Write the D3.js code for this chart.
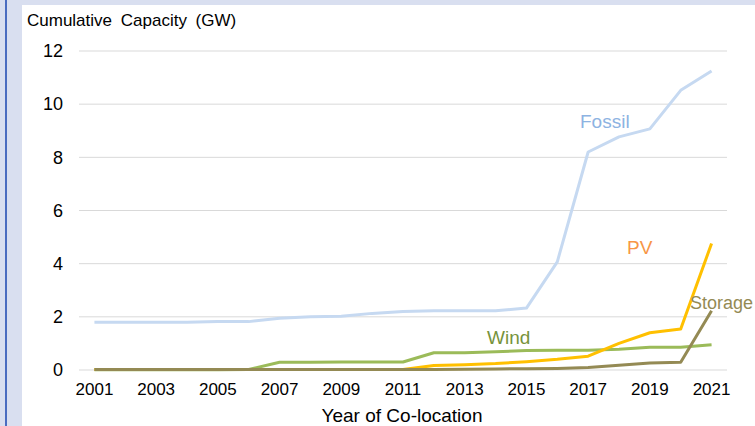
<!DOCTYPE html>
<html>
<head>
<meta charset="utf-8">
<script src="https://cdn.jsdelivr.net/npm/d3@7"></script>
<style>
  body { margin: 0; padding: 0; background: #fff; }
  svg { display: block; font-family: "Liberation Sans", Arial, sans-serif; }
</style>
</head>
<body>
<svg width="755" height="426"></svg>
<script>
var years = d3.range(2001, 2022);
var yTicks = [0, 2, 4, 6, 8, 10, 12];
var fossil = [1.8, 1.8, 1.8, 1.8, 1.82, 1.82, 1.95, 2.0, 2.02, 2.13, 2.2, 2.23, 2.23, 2.23, 2.33, 4.07, 8.2, 8.77, 9.07, 10.52, 11.25];
var pv = [0.02, 0.02, 0.02, 0.02, 0.02, 0.02, 0.02, 0.02, 0.02, 0.02, 0.02, 0.17, 0.2, 0.24, 0.31, 0.4, 0.52, 1.0, 1.4, 1.54, 4.76];
var wind = [0.01, 0.01, 0.01, 0.01, 0.01, 0.02, 0.29, 0.29, 0.3, 0.3, 0.3, 0.65, 0.65, 0.69, 0.73, 0.74, 0.74, 0.78, 0.86, 0.86, 0.95];
var storage = [0.02, 0.02, 0.02, 0.02, 0.02, 0.02, 0.02, 0.02, 0.02, 0.02, 0.02, 0.02, 0.03, 0.04, 0.05, 0.06, 0.09, 0.18, 0.26, 0.29, 2.23];

var series = [
  { name: 'Fossil', values: fossil, color: '#c6d9f1', labelColor: '#8db3e2', lx: 580, ly: 128, fs: 19 },
  { name: 'Wind', values: wind, color: '#9bbb59', labelColor: '#77933c', lx: 487, ly: 344, fs: 19 },
  { name: 'PV', values: pv, color: '#ffc000', labelColor: '#f79646', lx: 627, ly: 254, fs: 19 },
  { name: 'Storage', values: storage, color: '#948a54', labelColor: '#948a54', lx: 690, ly: 309, fs: 18 }
];

var svg = d3.select('svg');

// frame
svg.append('rect').attr('x', 0).attr('y', 0).attr('width', 755).attr('height', 426).attr('fill', '#d9dff0');
svg.append('rect').attr('x', 5).attr('y', 0).attr('width', 2).attr('height', 426).attr('fill', '#4a6cc0');
svg.append('rect').attr('x', 22).attr('y', 5).attr('width', 733).attr('height', 421).attr('fill', '#ffffff');

var xScale = d3.scaleBand()
  .domain(years)
  .range([79, 727]);

var yScale = d3.scaleLinear()
  .domain([0, 12])
  .range([370, 51]);

function cx(y) { return xScale(y) + xScale.bandwidth() / 2; }

// gridlines
svg.append('g').selectAll('line').data(yTicks).enter()
  .append('line')
  .attr('x1', 79).attr('x2', 727)
  .attr('y1', function(d) { return yScale(d); })
  .attr('y2', function(d) { return yScale(d); })
  .attr('stroke', '#d9d9d9')
  .attr('stroke-width', 1);

var axisLeft = d3.axisLeft(yScale).tickValues(yTicks).tickSize(0).tickPadding(16);
var gy = svg.append('g').attr('transform', 'translate(79,0)').call(axisLeft);
gy.select('.domain').remove();
gy.selectAll('text').attr('font-size', '18px').attr('fill', '#000').attr('font-family', '"Liberation Sans", Arial, sans-serif');

var axisBottom = d3.axisBottom(xScale)
  .tickValues(years.filter(function(d) { return (d - 2001) % 2 == 0; }))
  .tickSize(0).tickPadding(13);
var gx = svg.append('g').attr('transform', 'translate(0,370)').call(axisBottom);
gx.select('.domain').remove();
gx.selectAll('text').attr('font-size', '17px').attr('fill', '#000').attr('font-family', '"Liberation Sans", Arial, sans-serif');

var line = d3.line()
  .x(function(d, i) { return cx(years[i]); })
  .y(function(d) { return yScale(d); });

svg.append('g').selectAll('path').data(series).enter()
  .append('path')
  .attr('d', function(d) { return line(d.values); })
  .attr('fill', 'none')
  .attr('stroke', function(d) { return d.color; })
  .attr('stroke-width', 3)
  .attr('stroke-linejoin', 'round');

svg.append('g').selectAll('text').data(series).enter()
  .append('text')
  .attr('x', function(d) { return d.lx; })
  .attr('y', function(d) { return d.ly; })
  .attr('font-size', function(d) { return d.fs + 'px'; })
  .attr('fill', function(d) { return d.labelColor; })
  .text(function(d) { return d.name; });

svg.append('text')
  .attr('x', 27)
  .attr('y', 26)
  .attr('font-size', '17px')
  .attr('word-spacing', '4px')
  .attr('fill', '#000')
  .text('Cumulative Capacity (GW)');

svg.append('text')
  .attr('x', 402)
  .attr('y', 422)
  .attr('text-anchor', 'middle')
  .attr('font-size', '19px')
  .attr('fill', '#000')
  .text('Year of Co-location');
</script>
</body>
</html>
